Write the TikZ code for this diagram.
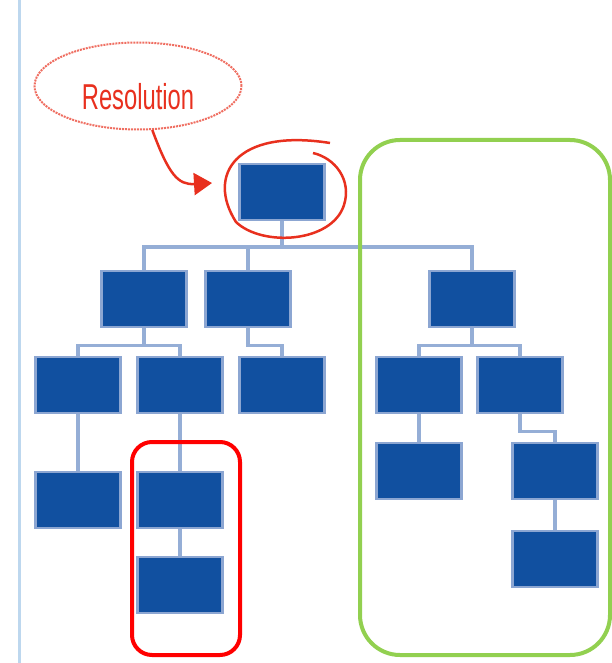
\documentclass[tikz,border=0pt]{standalone}
\usepackage{fontspec}
\usepackage{tikz}
\usetikzlibrary{arrows.meta,shapes.geometric,positioning}
\newfontfamily\resfont[FakeStretch=0.66]{Liberation Sans}
\definecolor{orgblue}{HTML}{1150A0}
\definecolor{orgedge}{HTML}{8CA6D2}
\definecolor{orglink}{HTML}{95AED6}
\definecolor{marginblue}{HTML}{BDD7EE}
\definecolor{markred}{HTML}{E8301E}
\definecolor{groupgreen}{HTML}{92D050}

\begin{document}
\begin{tikzpicture}[x=1pt,y=-1pt,
  orgbox/.style={rectangle,minimum width=85pt,minimum height=56pt,fill=orgblue,draw=orgedge,line width=2.5pt,inner sep=0pt},
  link/.style={orglink,line width=3.5pt},
  groupframe/.style={line width=4pt,rounded corners=#1}]
  \useasboundingbox (0,0) rectangle (611,663);
  \draw[marginblue,line width=3pt] (19,0) -- (19,663);
  % tree of boxes
  \node[orgbox] (root) at (282,192) {};
  \node[orgbox] (a) at (144,299) {};
  \node[orgbox] (b) at (248,299) {};
  \node[orgbox] (c) at (472,299) {};
  \node[orgbox] (aa) at (78,385) {};
  \node[orgbox] (ab) at (180,385) {};
  \node[orgbox] (ba) at (282,385) {};
  \node[orgbox] (ca) at (419,385) {};
  \node[orgbox] (cb) at (520,385) {};
  \node[orgbox] (aaa) at (78,500) {};
  \node[orgbox] (aba) at (180,500) {};
  \node[orgbox] (abaa) at (180,585) {};
  \node[orgbox] (caa) at (419,471) {};
  \node[orgbox] (cba) at (555,471) {};
  \node[orgbox] (cbaa) at (555,559) {};
  % connectors
  \coordinate (bus) at (282,247);
  \draw[link] (root.south) -- (bus);
  \foreach \n in {a,b,c}{\draw[link] (\n.north) |- (bus);}
  \foreach \p/\q in {a/aa,a/ab,b/ba,c/ca,c/cb,cb/cba}{\draw[link] (\p.south) -- ++(0,17) -| (\q.north);}
  \foreach \p/\q in {aa/aaa,ab/aba,aba/abaa,ca/caa,cba/cbaa}{\draw[link] (\p.south) -- (\q.north);}
  % groups
  \draw[groupframe=20pt,red] (132,442) rectangle (240,655);
  \draw[groupframe=40pt,groupgreen] (360,140) rectangle (610,655);
  % resolution callout
  \node[ellipse,draw=markred!70,densely dotted,line width=2pt,minimum width=207pt,minimum height=87pt,text height=50pt,text depth=2pt,text=markred,font=\resfont\fontsize{36}{40}\selectfont] (res) at (138,86) {Resolution};
  \draw[markred,line width=2.5pt,-{Triangle[width=22pt,length=18pt]}] (res.-72) .. controls (169,175) and (178,185) .. (212,183);
  \draw[markred,line width=2.5pt] (330,143) .. controls (236,128) and (206,175) .. (236,222) .. controls (262,247) and (332,243) .. (344,205) .. controls (352,180) and (335,158) .. (313,153);
\end{tikzpicture}
\end{document}
